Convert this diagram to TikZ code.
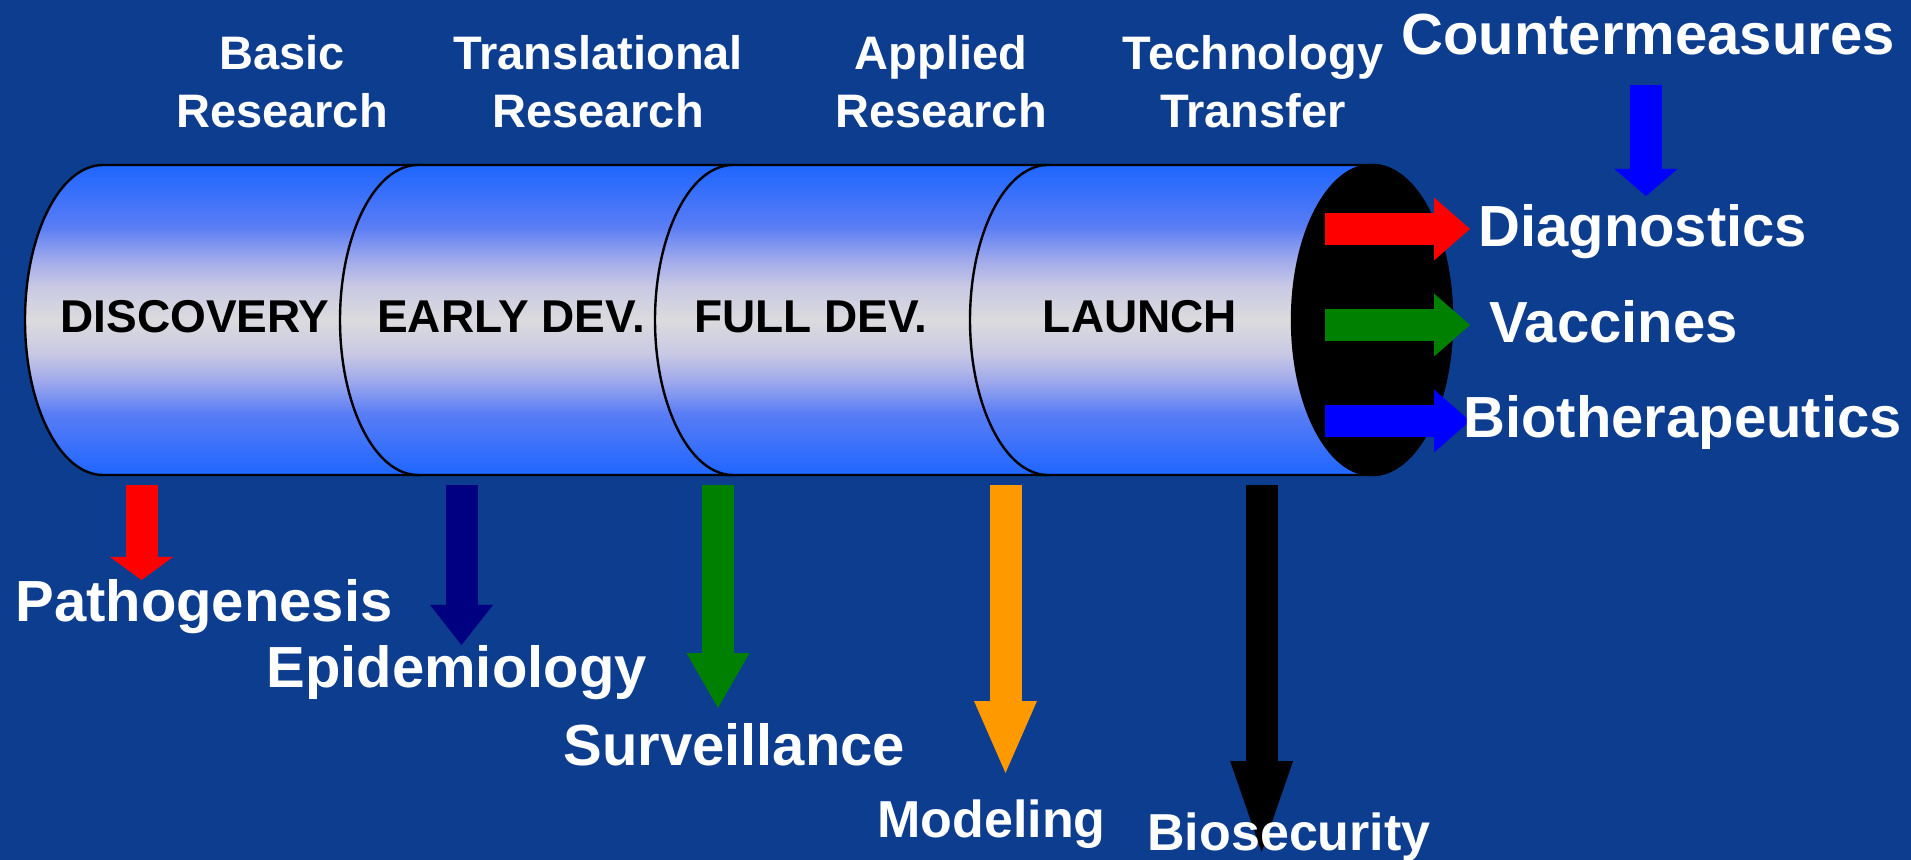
\documentclass[tikz,border=0pt]{standalone}
\usepackage{fontspec}
\setmainfont{Liberation Sans}
\usetikzlibrary{arrows.meta}
\definecolor{bg}{RGB}{13,61,143}
\definecolor{cylblue}{RGB}{30,102,255}
\definecolor{cA}{RGB}{90,125,245}
\definecolor{cB}{RGB}{160,170,235}
\definecolor{cC}{RGB}{200,200,228}
\definecolor{cD}{RGB}{214,214,223}
\definecolor{cE}{RGB}{219,219,223}
\definecolor{navyarrow}{RGB}{0,0,128}
\definecolor{greenarrow}{RGB}{0,128,0}
\definecolor{orangearrow}{RGB}{255,153,0}
\definecolor{bluearrow}{RGB}{0,0,255}
\definecolor{redarrow}{RGB}{255,0,0}
\pgfdeclareverticalshading{cylshade}{100bp}{color(0bp)=(cylblue); color(25bp)=(cylblue);
  color(35bp)=(cA); color(40.3bp)=(cB); color(44.5bp)=(cC); color(48.5bp)=(cD);
  color(50bp)=(cE); color(51.5bp)=(cD); color(55.5bp)=(cC); color(59.7bp)=(cB);
  color(65bp)=(cA); color(75bp)=(cylblue); color(100bp)=(cylblue)}
\begin{document}
\begin{tikzpicture}[x=0.5pt,y=-0.5pt,
  seg/.style={draw=black, line width=1.2pt, shade, shading=cylshade},
  inlabel/.style={font=\fontsize{23}{28}\selectfont\bfseries, text=black, inner sep=0pt, anchor=base},
  toplabel/.style={font=\fontsize{23.5}{29}\selectfont\bfseries, text=white, inner sep=0pt, align=center, anchor=base},
  outlabel/.style={font=\fontsize{29}{34}\selectfont\bfseries, text=white, inner sep=0pt, anchor=base west},
  smalllabel/.style={font=\fontsize{26}{30}\selectfont\bfseries, text=white, inner sep=0pt, anchor=base west},
  blockarrow/.style={line width=16pt, line cap=butt, -{Triangle[length=#1, width=31.5pt, line width=0pt]}},
]
\useasboundingbox (0,0) rectangle (1911,860);
\fill[bg] (0,0) rectangle (1911,860);

% cylinder segments
\path[seg] (103,165) arc[start angle=90, end angle=270, x radius=39pt, y radius=77.5pt]
  -- (418,475) arc[start angle=-90, end angle=90, x radius=39pt, y radius=77.5pt] -- cycle;
\path[seg] (418,165) arc[start angle=90, end angle=270, x radius=39pt, y radius=77.5pt]
  -- (733,475) arc[start angle=-90, end angle=90, x radius=39pt, y radius=77.5pt] -- cycle;
\path[seg] (733,165) arc[start angle=90, end angle=270, x radius=39pt, y radius=77.5pt]
  -- (1048,475) arc[start angle=-90, end angle=90, x radius=39pt, y radius=77.5pt] -- cycle;
\path[seg] (1048,165) arc[start angle=90, end angle=270, x radius=39pt, y radius=77.5pt]
  -- (1372,475) arc[start angle=-90, end angle=90, x radius=40pt, y radius=77.5pt] -- cycle;
\filldraw[fill=black, draw=black, line width=1.2pt] (1372,320) ellipse [x radius=40pt, y radius=77.5pt];

% stage labels
\node[inlabel] (disc) at (195,333) {DISCOVERY};
\node[inlabel] (early) at (511,333) {EARLY DEV.};
\node[inlabel] (full) at (811,333) {FULL DEV.};
\node[inlabel] (launch) at (1140,333) {LAUNCH};

% top labels (anchor base = baseline of the last line)
\node[toplabel] (basic) at (282,128) {Basic\\Research};
\node[toplabel] (transl) at (598,128) {Translational\\Research};
\node[toplabel] (applied) at (941,128) {Applied\\Research};
\node[toplabel] (techtr) at (1253,128) {Technology\\Transfer};
\node[outlabel, anchor=base] (counter) at (1648,55) {Countermeasures};

% outputs
\coordinate (rs1) at (1325,229);
\coordinate (rs2) at (1325,325);
\coordinate (rs3) at (1325,421);
\coordinate (re1) at (1470,229);
\coordinate (re2) at (1470,325);
\coordinate (re3) at (1470,421);
\draw[blockarrow=18pt, draw=redarrow] (rs1) -- (re1);
\draw[blockarrow=18pt, draw=greenarrow] (rs2) -- (re2);
\draw[blockarrow=18pt, draw=bluearrow] (rs3) -- (re3);
\node[outlabel] (diag) at (1478,247) {Diagnostics};
\node[outlabel] (vacc) at (1489,343) {Vaccines};
\node[outlabel] (bioth) at (1463,438) {Biotherapeutics};

\coordinate (cs) at (1646,85);
\coordinate (ce) at (1646,196);
\draw[blockarrow=13.5pt, draw=bluearrow] (cs) -- (ce);

% down arrows
\coordinate (d1s) at (141.5,485);  \coordinate (d1e) at (141.5,580);
\coordinate (d2s) at (461.5,485);  \coordinate (d2e) at (461.5,645);
\coordinate (d3s) at (718,485);    \coordinate (d3e) at (718,708);
\coordinate (d4s) at (1005.5,485); \coordinate (d4e) at (1005.5,773);
\coordinate (d5s) at (1261.6,485); \coordinate (d5e) at (1261.6,852);
\draw[blockarrow=11.5pt, draw=redarrow] (d1s) -- (d1e);
\draw[blockarrow=20pt, draw=navyarrow] (d2s) -- (d2e);
\draw[blockarrow=27.5pt, draw=greenarrow] (d3s) -- (d3e);
\draw[blockarrow=36pt, draw=orangearrow] (d4s) -- (d4e);
\draw[blockarrow=45.5pt, draw=black] (d5s) -- (d5e);

\node[outlabel] (patho) at (15,622) {Pathogenesis};
\node[outlabel] (epid) at (266,687) {Epidemiology};
\node[outlabel] (surv) at (563,765) {Surveillance};
\node[smalllabel] (model) at (877,837) {Modeling};
\node[smalllabel] (biosec) at (1147,850) {Biosecurity};
\end{tikzpicture}
\end{document}
